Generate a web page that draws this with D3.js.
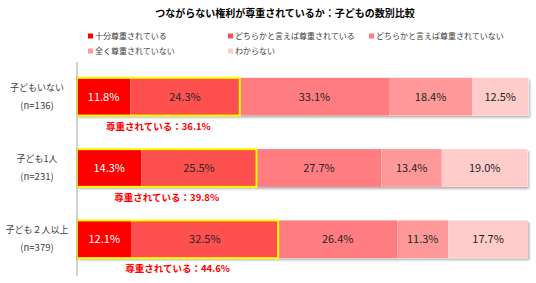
<!DOCTYPE html>
<html>
<head>
<meta charset="utf-8">
<script src="https://cdn.jsdelivr.net/npm/d3@7"></script>
<style>
  body { margin: 0; background: #fff; }
  text { font-family: "Noto Sans CJK JP", "Noto Sans", sans-serif; }
</style>
</head>
<body>
<svg id="chart" width="536" height="283"></svg>
<script>
const categories = ['子どもいない', '子ども1人', '子ども２人以上'];
const sampleSizes = ['(n=136)', '(n=231)', '(n=379)'];
const seriesNames = ['十分尊重されている', 'どちらかと言えば尊重されている', 'どちらかと言えば尊重されていない', '全く尊重されていない', 'わからない'];
const colors = ['#ff0000', '#ff5050', '#ff7c80', '#ff9999', '#ffcccc'];
const values = [
    [11.8, 24.3, 33.1, 18.4, 12.5],
    [14.3, 25.5, 27.7, 13.4, 19.0],
    [12.1, 32.5, 26.4, 11.3, 17.7]
];
const respectedTotals = [36.1, 39.8, 44.6];

const svg = d3.select('#chart');

const x = d3.scaleLinear().domain([0, 100]).range([77, 528]);
const y = d3.scaleBand().domain(categories).range([60, 276]).paddingInner(0.47).paddingOuter(0.25);

// title
svg.append('text')
    .attr('x', 285).attr('y', 17)
    .attr('text-anchor', 'middle')
    .attr('font-size', 10).attr('font-weight', 'bold').attr('fill', '#000')
    .text('つながらない権利が尊重されているか：子どもの数別比較');

// legend
const legendPos = [[88, 36], [228, 36], [369, 36], [88, 51], [228, 51]];
const legend = svg.append('g').selectAll('g')
    .data(seriesNames)
    .enter().append('g')
    .attr('transform', (d, i) => `translate(${legendPos[i][0]},${legendPos[i][1]})`);
legend.append('rect')
    .attr('x', 0).attr('y', -2.5).attr('width', 5).attr('height', 5)
    .attr('fill', (d, i) => colors[i]);
legend.append('text')
    .attr('x', 7).attr('y', 0).attr('dy', '0.35em')
    .attr('font-size', 8).attr('fill', '#404040')
    .text(d => d);

// shadow filter
const defs = svg.append('defs');
const filter = defs.append('filter').attr('id', 'shadow').attr('x', '-5%').attr('y', '-20%').attr('width', '110%').attr('height', '150%');
filter.append('feDropShadow').attr('dx', 1.5).attr('dy', 2).attr('stdDeviation', 1).attr('flood-color', '#000').attr('flood-opacity', 0.3);

// stacked data
const rows = categories.map((c, i) => {
    let acc = 0;
    return values[i].map((v, j) => {
        const seg = { cat: c, row: i, series: j, v: v, x0: acc, x1: acc + v };
        acc += v;
        return seg;
    });
});

const rowG = svg.append('g').selectAll('g')
    .data(rows)
    .enter().append('g');

rowG.append('rect')
    .attr('x', x(0)).attr('y', (d, i) => y(categories[i]))
    .attr('width', d => x(d[d.length - 1].x1) - x(0))
    .attr('height', y.bandwidth())
    .attr('fill', '#fff')
    .attr('filter', 'url(#shadow)');

rowG.selectAll('rect.seg')
    .data(d => d)
    .enter().append('rect')
    .attr('class', 'seg')
    .attr('x', d => x(d.x0))
    .attr('y', d => y(d.cat))
    .attr('width', d => x(d.x1) - x(d.x0))
    .attr('height', y.bandwidth())
    .attr('fill', d => colors[d.series]);

rowG.selectAll('text.val')
    .data(d => d)
    .enter().append('text')
    .attr('class', 'val')
    .attr('x', d => (x(d.x0) + x(d.x1)) / 2)
    .attr('y', d => y(d.cat) + y.bandwidth() / 2)
    .attr('dy', '0.35em')
    .attr('text-anchor', 'middle')
    .attr('font-size', 11)
    .attr('fill', d => d.series === 0 ? '#fff' : '#262626')
    .text(d => d.v.toFixed(1) + '%');

// yellow highlight of respected share
rowG.append('rect')
    .attr('x', x(0))
    .attr('y', (d, i) => y(categories[i]))
    .attr('width', d => x(d[1].x1) - x(0))
    .attr('height', y.bandwidth())
    .attr('fill', 'none')
    .attr('stroke', '#ffff00')
    .attr('stroke-width', 2);

rowG.append('text')
    .attr('x', d => (x(0) + x(d[1].x1)) / 2)
    .attr('y', (d, i) => y(categories[i]) + y.bandwidth() + 14)
    .attr('text-anchor', 'middle')
    .attr('font-size', 9.5).attr('font-weight', 'bold').attr('fill', '#ff0000')
    .text((d, i) => '尊重されている：' + respectedTotals[i].toFixed(1) + '%');

// axis line
svg.append('line')
    .attr('x1', x(0)).attr('x2', x(0))
    .attr('y1', 62).attr('y2', 276)
    .attr('stroke', '#a6a6a6').attr('stroke-width', 1);

// category labels
const labels = svg.append('g').selectAll('g')
    .data(categories)
    .enter().append('g');
labels.append('text')
    .attr('x', 37).attr('y', d => y(d) + y.bandwidth() / 2 - 6)
    .attr('text-anchor', 'middle')
    .attr('font-size', 9).attr('fill', '#404040')
    .text(d => d);
labels.append('text')
    .attr('x', 37).attr('y', (d, i) => y(d) + y.bandwidth() / 2 + 12)
    .attr('text-anchor', 'middle')
    .attr('font-size', 9.5).attr('fill', '#404040')
    .text((d, i) => sampleSizes[i]);
</script>
</body>
</html>
